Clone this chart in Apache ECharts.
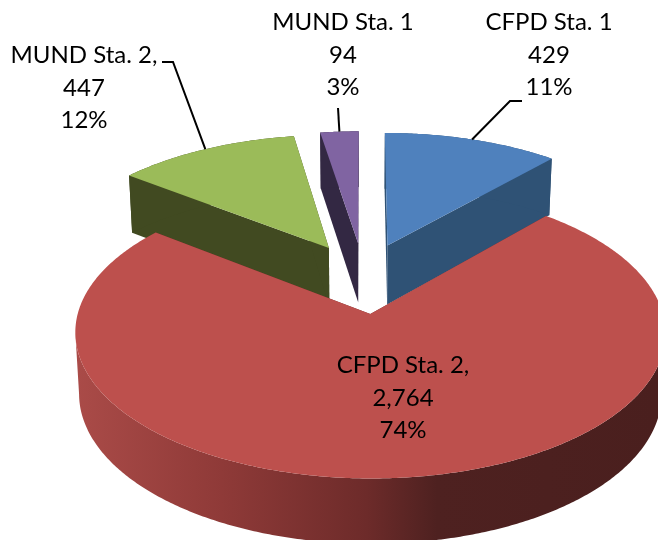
<!DOCTYPE html>
<html>
<head>
<meta charset="utf-8">
<style>
  html, body { margin: 0; padding: 0; background: #fff; }
  #chart { width: 658px; height: 540px; }
</style>
<script src="https://cdn.jsdelivr.net/npm/echarts@6/dist/echarts.min.js"></script>
</head>
<body>
<div id="chart"></div>
<script>
// slices run clockwise from 12 o'clock
const names = ['CFPD Sta. 1', 'CFPD Sta. 2,', 'MUND Sta. 2,', 'MUND Sta. 1'];
const values = [429, 2764, 447, 94];

const topColors = ['#4f81bd', '#bd504d', '#9bbb59', '#8064a2'];
const wallColors = ['#2f5275', '#6f2c2b', '#414a21', '#332843'];
const drawOrder = [3, 0, 2, 1];

// where the label block sits, and the elbow of its leader line (null = no leader)
const labelPos = [[549, 22], [403, 365], [84, 55], [343, 22]];
const leaderElbow = [[[522, 101], [510, 101]], null, [[162, 62], [173, 62]], [[338, 108]]];

// perspective of the tilted pie
const view = { cx: 363.5, cy: 277.5, a: 283, b: 134, k: 0.125, ex: 0.247, ey: 0.264, depth: 60, shrink: 0.987 };

const total = values.reduce((s, v) => s + v, 0);

function sliceAngles(i) {
  const before = values.slice(0, i).reduce((s, v) => s + v, 0);
  const start = before / total * Math.PI * 2;
  const end = (before + values[i]) / total * Math.PI * 2;
  return { start, end, mid: (start + end) / 2 };
}

// r = distance from the slice apex in pie units
function project(i, angle, r) {
  const mid = sliceAngles(i).mid;
  const u = view.ex * Math.sin(mid) + r * Math.sin(angle);
  const v = view.ey * Math.cos(mid) + r * Math.cos(angle);
  const w = 1 + view.k * v;
  return {
    x: view.cx + view.a * u / w,
    y: view.cy - view.b * v / w,
    wall: view.depth / Math.sqrt(w)
  };
}

const topPoint = p => [p.x, p.y];
const bottomPoint = p => [view.cx + (p.x - view.cx) * view.shrink, p.y + p.wall];

function arcPoints(i) {
  const { start, end } = sliceAngles(i);
  const steps = Math.max(4, Math.ceil((end - start) / 0.01));
  const pts = [];
  for (let s = 0; s <= steps; s++) {
    pts.push(project(i, start + (end - start) * s / steps, 1));
  }
  return pts;
}

// only the part of the arc between its left and right extremes faces the viewer
function silhouette(arc) {
  const xs = arc.map(p => p.x);
  const right = xs.indexOf(Math.max(...xs));
  const left = xs.indexOf(Math.min(...xs));
  return arc.slice(Math.min(left, right), Math.max(left, right) + 1);
}

const rimGradient = new echarts.graphic.LinearGradient(76, 0, 658, 0, [
  { offset: 0, color: '#aa4b48' },
  { offset: 0.25, color: '#8f3a38' },
  { offset: 0.5, color: '#6d2b2a' },
  { offset: 0.62, color: '#4e2120' },
  { offset: 1, color: '#4a1f1e' }
], true);

function renderSlice(params, api) {
  const i = api.value(0);
  const { start, end } = sliceAngles(i);
  const apex = project(i, 0, 0);
  const arc = arcPoints(i);
  const polygon = (points, fill, z2) => ({
    type: 'polygon',
    z2: z2,
    shape: { points: points },
    style: { fill: fill }
  });
  const flatWall = angle => {
    const rimEnd = project(i, angle, 1);
    return [topPoint(apex), topPoint(rimEnd), bottomPoint(rimEnd), bottomPoint(apex)];
  };
  const front = silhouette(arc);
  const outerWall = front.map(topPoint).concat(front.map(bottomPoint).reverse());

  return {
    type: 'group',
    children: [
      polygon(flatWall(start), wallColors[i], 1),
      polygon(flatWall(end), wallColors[i], 1),
      polygon(outerWall, i === 1 ? rimGradient : wallColors[i], 2),
      polygon([topPoint(apex)].concat(arc.map(topPoint)), topColors[i], 3)
    ]
  };
}

function renderLabel(params, api) {
  const i = api.value(0);
  const [x, y] = labelPos[i];
  const pct = Math.round(values[i] / total * 100) + '%';
  const lines = [names[i], values[i].toLocaleString('en-US'), pct];
  const children = lines.map((text, n) => ({
    type: 'text',
    style: {
      x: x,
      y: y + n * 32.8,
      text: text,
      fill: '#000',
      font: '24px Lato',
      align: 'center',
      verticalAlign: 'middle'
    }
  }));
  if (leaderElbow[i]) {
    const end = project(i, sliceAngles(i).mid, 1);
    children.push({
      type: 'polyline',
      shape: { points: leaderElbow[i].concat([[end.x, end.y]]) },
      style: { stroke: '#000', lineWidth: 2, fill: 'none' }
    });
  }
  return { type: 'group', children: children };
}

const chart = echarts.init(document.getElementById('chart'));
chart.setOption({
  animation: false,
  backgroundColor: '#fff',
  series: [
    {
      type: 'custom',
      coordinateSystem: 'none',
      silent: true,
      renderItem: renderSlice,
      data: drawOrder.map(i => [i, values[i]])
    },
    {
      type: 'custom',
      coordinateSystem: 'none',
      silent: true,
      z: 5,
      renderItem: renderLabel,
      data: names.map((n, i) => [i, values[i]])
    }
  ]
});
</script>
</body>
</html>
